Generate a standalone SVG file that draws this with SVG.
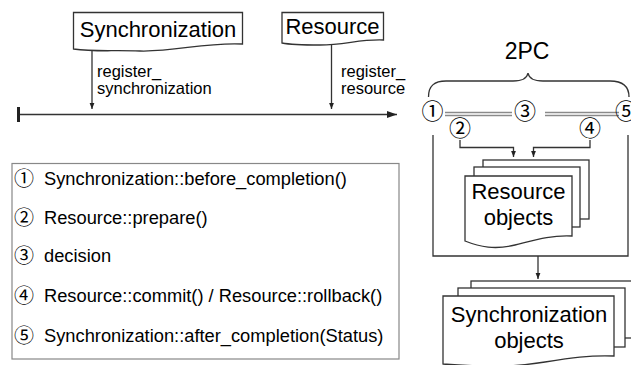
<svg xmlns="http://www.w3.org/2000/svg" width="631" height="365" viewBox="0 0 631 365">
<defs>
<style>
.ln{fill:none;stroke:#333;stroke-width:1.3}
.doc{fill:#fff;stroke:#333;stroke-width:1.3}
.t{font-family:"Liberation Sans","Noto Sans CJK JP",Arial,sans-serif;fill:#000}
.big{font-size:22px}
.lbl{font-size:16.5px}
.leg{font-size:18.3px}
.num{font-size:20px}
.cn{font-size:22px}
.dbl{stroke:#8a8a8a;stroke-width:1.4}
</style>
<marker id="ah" viewBox="0 0 10 10" refX="10" refY="5" markerWidth="5" markerHeight="5" orient="auto">
<path d="M0,1 L10,5 L0,9 z" fill="#222"/>
</marker>
<marker id="ahb" viewBox="0 0 10 10" refX="10" refY="5" markerWidth="8" markerHeight="8" orient="auto">
<path d="M0,1.5 L10,5 L0,8.5 z" fill="#222"/>
</marker>
</defs>
<rect width="631" height="365" fill="#fff"/>

<g id="timeline">
<line class="ln" x1="18" y1="114.5" x2="397" y2="114.5" marker-end="url(#ahb)"/>
<line x1="18.5" y1="107" x2="18.5" y2="122" stroke="#222" stroke-width="3"/>
</g>

<g id="sync">
<path class="doc" d="M73.5,12.5 H242.5 V44 C205,42 175,52 140,51 C110,50 95,52 73.5,49 Z"/>
<text class="t big" x="158" y="37" text-anchor="middle">Synchronization</text>
</g>

<g id="resource">
<path class="doc" d="M282,12.5 H383.5 V40 C360,39 345,45 320,45 C300,45 292,45 282,43 Z"/>
<text class="t big" x="332.5" y="33.5" text-anchor="middle">Resource</text>
</g>

<g id="connectors">
<line class="ln" x1="92" y1="51" x2="92" y2="109" marker-end="url(#ah)"/>
<line class="ln" x1="331.5" y1="45" x2="331.5" y2="109" marker-end="url(#ah)"/>
<path class="ln" d="M460,140 V147.5 H513.5 V157" marker-end="url(#ah)"/>
<path class="ln" d="M590,140 V147.5 H533.5 V157" marker-end="url(#ah)"/>
<path class="ln" d="M433,135 V256 H628 V135"/>
<line class="ln" x1="538" y1="256" x2="538" y2="279" marker-end="url(#ah)"/>
<line class="dbl" x1="445" y1="112.5" x2="512" y2="112.5"/>
<line class="dbl" x1="445" y1="115.5" x2="512" y2="115.5"/>
<line class="dbl" x1="545" y1="112.5" x2="619" y2="112.5"/>
<line class="dbl" x1="545" y1="115.5" x2="619" y2="115.5"/>
<path class="ln" d="M428.5,97 C428.5,85 435,81 446,81 H513 C522,81 527,79 528,73 C529,79 534,81 543,81 H610 C621,81 629,85 629,97"/>
</g>

<g id="labels">
<text class="t lbl" x="97" y="77">register_</text>
<text class="t lbl" x="97" y="94">synchronization</text>
<text class="t lbl" x="341" y="77">register_</text>
<text class="t lbl" x="341" y="94">resource</text>
<text class="t" x="527" y="59" font-size="23" text-anchor="middle">2PC</text>
<text class="t cn" x="432.5" y="119" text-anchor="middle">①</text>
<text class="t cn" x="525" y="119" text-anchor="middle">③</text>
<text class="t cn" x="626" y="119" text-anchor="middle">⑤</text>
<text class="t cn" x="460" y="136" text-anchor="middle">②</text>
<text class="t cn" x="590" y="136" text-anchor="middle">④</text>
</g>

<g id="resource-objects">
<rect class="doc" x="483" y="160" width="106" height="59"/>
<rect class="doc" x="474" y="167" width="106" height="60"/>
<path class="doc" d="M465,176 H572 V236 C550,235 535,240 515,245 C495,250 480,247 465,241 Z"/>
<text class="t big" x="518.5" y="199" text-anchor="middle">Resource</text>
<text class="t big" x="518.5" y="225" text-anchor="middle">objects</text>
</g>

<g id="sync-objects">
<rect class="doc" x="471" y="281" width="165" height="57"/>
<rect class="doc" x="458" y="288" width="167" height="59"/>
<path class="doc" d="M443,296 H614 V356 C590,355 570,358 545,362 C520,366 500,368 443,364 Z"/>
<text class="t big" x="529" y="322" text-anchor="middle">Synchronization</text>
<text class="t big" x="529" y="348" text-anchor="middle">objects</text>
</g>

<g id="legend">
<rect x="12" y="163.5" width="387" height="195.5" fill="#fff" stroke="#888" stroke-width="1.2"/>
<text class="t num" x="14" y="186">①</text>
<text class="t leg" x="44" y="185">Synchronization::before_completion()</text>
<text class="t num" x="14" y="225">②</text>
<text class="t leg" x="44" y="224">Resource::prepare()</text>
<text class="t num" x="14" y="263">③</text>
<text class="t leg" x="44" y="262">decision</text>
<text class="t num" x="14" y="303">④</text>
<text class="t leg" x="44" y="302">Resource::commit() / Resource::rollback()</text>
<text class="t num" x="14" y="343">⑤</text>
<text class="t leg" x="44" y="342">Synchronization::after_completion(Status)</text>
</g>
</svg>
